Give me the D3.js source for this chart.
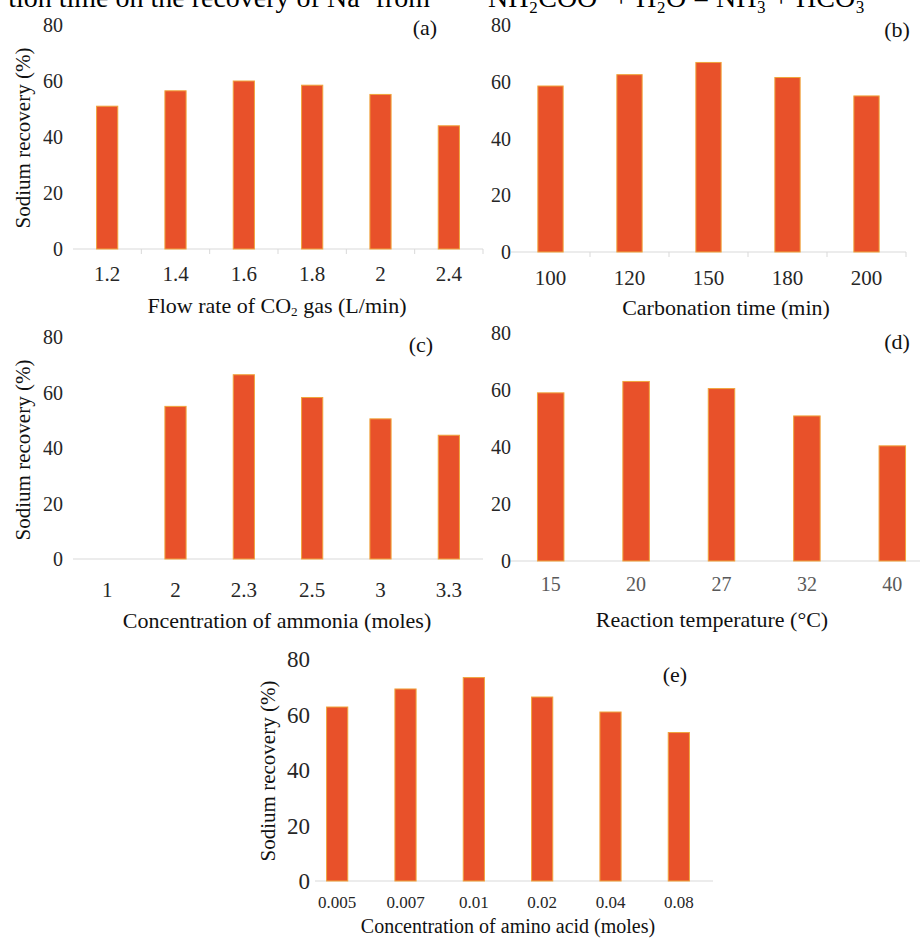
<!DOCTYPE html>
<html>
<head>
<meta charset="utf-8">
<script src="https://cdn.jsdelivr.net/npm/d3@7"></script>
<style>
  body { margin: 0; background: #fff; }
  svg { display: block; font-family: "Liberation Serif", "Times New Roman", serif; }
</style>
</head>
<body>
<div id="chart"></div>
<script>
// Data
const yTicks = [0, 20, 40, 60, 80];

const flowRates = ["1.2", "1.4", "1.6", "1.8", "2", "2.4"];
const flowRecovery = [51, 56.5, 60, 58.5, 55.2, 44];

const carbTimes = ["100", "120", "150", "180", "200"];
const carbRecovery = [58.5, 62.5, 66.8, 61.5, 55];

const ammoniaConc = ["1", "2", "2.3", "2.5", "3", "3.3"];
const ammoniaRecovery = [0, 55, 66.4, 58.2, 50.5, 44.6];

const temperatures = ["15", "20", "27", "32", "40"];
const tempRecovery = [59, 63, 60.5, 50.9, 40.4];

const aminoConc = ["0.005", "0.007", "0.01", "0.02", "0.04", "0.08"];
const aminoRecovery = [62.7, 69.2, 73.3, 66.3, 60.9, 53.5];

const svg = d3.select("#chart")
  .append("svg")
  .attr("width", 920)
  .attr("height", 938);

// cut-off lines of the page text above the figure (clipped in the original too)
svg.append("text")
  .attr("x", 430).attr("y", 7)
  .attr("text-anchor", "end")
  .style("font-size", "28px")
  .text("tion time on the recovery of Na\u207A from");

svg.append("text")
  .attr("x", 488).attr("y", 7)
  .style("font-size", "28px")
  .text("NH\u2082COO\u207B + H\u2082O = NH\u2083 + HCO\u2083\u207B");

function drawPanel(p) {
  const x = d3.scaleBand()
    .domain(p.labels)
    .range(p.xRange)
    .padding(0);

  const y = d3.scaleLinear()
    .domain([0, 80])
    .range([p.y0, p.y80]);

  const g = svg.append("g");

  // baseline
  g.append("line")
    .attr("x1", p.lineStart || x.range()[0])
    .attr("x2", x.range()[1])
    .attr("y1", y(0)).attr("y2", y(0))
    .attr("stroke", "#d9d9d9")
    .attr("stroke-width", 1);

  // small tick marks between categories
  if (p.ticks) {
    g.selectAll(".tk")
      .data(p.labels)
      .enter().append("line")
      .attr("x1", d => x(d) + x.bandwidth())
      .attr("x2", d => x(d) + x.bandwidth())
      .attr("y1", y(0))
      .attr("y2", y(0) + 5)
      .attr("stroke", "#d9d9d9");
  }

  const bw = x.bandwidth() * p.barFrac;
  const bars = p.labels.map((l, i) => ({ label: l, value: p.values[i] }))
    .filter(d => d.value > 0);

  g.selectAll("rect")
    .data(bars)
    .enter().append("rect")
    .attr("x", d => x(d.label) + (x.bandwidth() - bw) / 2)
    .attr("y", d => y(d.value))
    .attr("width", bw)
    .attr("height", d => y(0) - y(d.value))
    .attr("fill", "#e8512a")
    .attr("stroke", "#f0a43c")
    .attr("stroke-width", 1);

  // y tick labels
  g.selectAll(".yt")
    .data(yTicks)
    .enter().append("text")
    .attr("x", p.yTickX)
    .attr("y", d => y(d))
    .attr("dy", "0.35em")
    .attr("text-anchor", "end")
    .style("font-size", p.yTickSize + "px")
    .attr("fill", "#262626")
    .text(d => d);

  // x tick labels
  g.selectAll(".xt")
    .data(p.labels)
    .enter().append("text")
    .attr("x", d => x(d) + x.bandwidth() / 2)
    .attr("y", p.xTickY)
    .attr("text-anchor", "middle")
    .style("font-size", p.xTickSize + "px")
    .attr("fill", p.tickColor)
    .text(d => d);

  // x title
  const t = g.append("text")
    .attr("x", p.titleX)
    .attr("y", p.titleY)
    .attr("text-anchor", "middle")
    .style("font-size", p.titleSize + "px")
    .attr("fill", "#111");
  p.title.forEach(part => {
    const s = t.append("tspan").text(part.t);
    if (part.sub) s.attr("dy", 3).style("font-size", (p.titleSize * 0.6) + "px");
    if (part.after) s.attr("dy", -3);
  });

  // panel letter
  g.append("text")
    .attr("x", p.tagX)
    .attr("y", p.tagY)
    .attr("text-anchor", "middle")
    .style("font-size", "22px")
    .attr("fill", "#111")
    .text(p.tag);

  if (p.yLabelX) {
    g.append("text")
      .attr("transform", `translate(${p.yLabelX},${p.yLabelY}) rotate(-90)`)
      .attr("dy", "0.35em")
      .attr("text-anchor", "middle")
      .style("font-size", "21px")
      .attr("fill", "#111")
      .text("Sodium recovery (%)");
  }
}

drawPanel({
  labels: flowRates, values: flowRecovery,
  xRange: [73, 483], y0: 249, y80: 25, barFrac: 0.31, ticks: true,
  yTickX: 63, yTickSize: 20, xTickY: 281, xTickSize: 21, tickColor: "#262626",
  title: [{t: "Flow rate of CO"}, {t: "2", sub: true}, {t: " gas (L/min)", after: true}],
  titleX: 277, titleY: 313, titleSize: 22,
  tag: "(a)", tagX: 425, tagY: 35,
  yLabelX: 23, yLabelY: 138
});

drawPanel({
  labels: carbTimes, values: carbRecovery,
  xRange: [511, 906], y0: 252, y80: 25, barFrac: 0.32, ticks: true,
  yTickX: 511, yTickSize: 20, xTickY: 285, xTickSize: 21, tickColor: "#262626",
  title: [{t: "Carbonation time (min)"}],
  titleX: 726, titleY: 315, titleSize: 22,
  tag: "(b)", tagX: 897, tagY: 37
});

drawPanel({
  labels: ammoniaConc, values: ammoniaRecovery,
  xRange: [73, 483], y0: 559, y80: 337, barFrac: 0.31, ticks: false,
  yTickX: 63, yTickSize: 20, xTickY: 597, xTickSize: 21, tickColor: "#262626",
  title: [{t: "Concentration of ammonia (moles)"}],
  titleX: 277, titleY: 628, titleSize: 22,
  tag: "(c)", tagX: 421, tagY: 352,
  yLabelX: 23, yLabelY: 450
});

drawPanel({
  labels: temperatures, values: tempRecovery,
  xRange: [508, 935], y0: 561, y80: 333, barFrac: 0.31, ticks: false,
  yTickX: 511, yTickSize: 20, xTickY: 591, xTickSize: 20, tickColor: "#595959",
  title: [{t: "Reaction temperature (\u00B0C)"}],
  titleX: 712, titleY: 627, titleSize: 22,
  tag: "(d)", tagX: 897, tagY: 349
});

drawPanel({
  labels: aminoConc, values: aminoRecovery,
  xRange: [303, 713], lineStart: 315, y0: 881, y80: 659, barFrac: 0.31, ticks: false,
  yTickX: 310, yTickSize: 23, xTickY: 908, xTickSize: 17, tickColor: "#262626",
  title: [{t: "Concentration of amino acid (moles)"}],
  titleX: 508, titleY: 933, titleSize: 20,
  tag: "(e)", tagX: 675, tagY: 682,
  yLabelX: 268, yLabelY: 771
});
</script>
</body>
</html>
